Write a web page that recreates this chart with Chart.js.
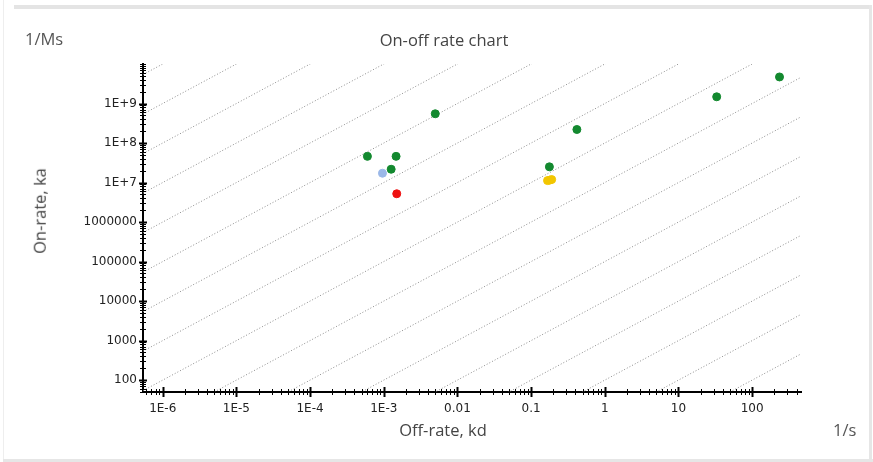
<!DOCTYPE html>
<html>
<head>
<meta charset="utf-8">
<script src="https://cdn.jsdelivr.net/npm/chart.js@4/dist/chart.umd.min.js"></script>
<style>
  html, body { margin: 0; padding: 0; background: #fff; }
  #wrap { position: relative; width: 873px; height: 462px; overflow: hidden; }
  #chart { position: absolute; left: 0; top: 0; }
  .lbl { position: absolute; font-family: "Open Sans", "Noto Sans", sans-serif; color: #555; font-size: 16.5px; white-space: nowrap; line-height: 1; }
  .edge { position: absolute; background: #e4e4e4; }
</style>
</head>
<body>
<div id="wrap">
  <div class="edge" style="left:3px;top:0;width:1px;height:462px;background:#eeeeee"></div>
  <div class="edge" style="left:14px;top:5px;width:858px;height:4px"></div>
  <div class="edge" style="left:869px;top:5px;width:3px;height:457px;background:#e6e6e6"></div>
  <div class="edge" style="left:3px;top:459px;width:870px;height:3px;background:#e6e6e6"></div>
  <canvas id="chart" width="873" height="462"></canvas>
  <div class="lbl" style="left:25px;top:31px;">1/Ms</div>
  <div class="lbl" style="left:444px;top:32px;transform:translateX(-50%);color:#444;font-size:16.5px;">On-off rate chart</div>
  <div class="lbl" style="left:40px;top:211px;transform:translate(-50%,-50%) rotate(-90deg);color:#444;">On-rate, ka</div>
  <div class="lbl" style="left:443px;top:422px;transform:translateX(-50%);color:#444;">Off-rate, kd</div>
  <div class="lbl" style="left:833px;top:422px;">1/s</div>
</div>
<script>
// axis range
const kdMin = 5.4e-7, kdMax = 460;
const kaMin = 50, kaMax = 1e10;

// tick labels (decades)
const kdTicks = [1e-6, 1e-5, 1e-4, 1e-3, 0.01, 0.1, 1, 10, 100];
const kdLabels = ["1E-6", "1E-5", "1E-4", "1E-3", "0.01", "0.1", "1", "10", "100"];
const kaTicks = [100, 1000, 10000, 100000, 1000000, 1e7, 1e8, 1e9];
const kaLabels = ["100", "1000", "10000", "100000", "1000000", "1E+7", "1E+8", "1E+9"];

// iso-affinity lines (KD = kd / ka)
const isoKd = [1e-17, 1e-16, 1e-15, 1e-14, 1e-13, 1e-12, 1e-11, 1e-10, 1e-9, 1e-8, 1e-7, 1e-6, 1e-5, 1e-4, 1e-3, 1e-2, 1e-1, 1, 10];

// measured points
const greenKd = [5.0e-3, 6.0e-4, 1.47e-3, 1.26e-3, 0.418, 0.177, 33, 235];
const greenKa = [5.5e8, 4.6e7, 4.6e7, 2.17e7, 2.2e8, 2.5e7, 1.48e9, 4.7e9];
const blueKd = [9.6e-4];
const blueKa = [1.72e7];
const redKd = [1.5e-3];
const redKa = [5.2e6];
const yellowKd = [0.167, 0.178, 0.19];
const yellowKa = [1.12e7, 1.15e7, 1.19e7];

function pts(xs, ys) {
  return xs.map((x, i) => ({ x: x, y: ys[i] }));
}

// decade + minor (2..9) ticks between min and max
function logTicks(min, max, majors) {
  const out = [];
  const lo = Math.floor(Math.log10(min)), hi = Math.ceil(Math.log10(max));
  for (let e = lo; e <= hi; e++) {
    for (let m = 1; m <= 9; m++) {
      const v = m * Math.pow(10, e);
      if (v < min * 0.999 || v > max * 1.001) continue;
      out.push({ value: v, major: m === 1 && majors.some(t => Math.abs(t - v) / v < 1e-6) });
    }
  }
  return out;
}

function labelFor(value, ticks, labels) {
  const i = ticks.findIndex(t => Math.abs(t - value) / t < 1e-6);
  return i >= 0 ? labels[i] : "";
}

const isoSets = isoKd.map(kd => ({
  type: "line",
  data: [{ x: kdMin, y: kdMin / kd }, { x: kdMax, y: kdMax / kd }],
  borderColor: "#8c8c8c",
  borderWidth: 1,
  borderDash: [1, 2],
  pointRadius: 0,
  fill: false,
  order: 5
}));

function dotSet(data, color) {
  return {
    type: "scatter",
    data: data,
    backgroundColor: color,
    borderColor: color,
    pointRadius: 4,
    pointHoverRadius: 4,
    order: 1
  };
}

// ticks that cross the axis lines
const axisTicks = {
  id: "axisTicks",
  afterDraw(chart) {
    const ctx = chart.ctx;
    const area = chart.chartArea;
    const xs = chart.scales.x, ys = chart.scales.y;
    ctx.save();
    ctx.strokeStyle = "#000";
    xs.ticks.forEach(t => {
      const px = Math.round(xs.getPixelForValue(t.value)) + 0.5;
      const len = t.major ? 5 : 3;
      ctx.lineWidth = t.major ? 2 : 1;
      ctx.beginPath();
      ctx.moveTo(px, area.bottom - len);
      ctx.lineTo(px, area.bottom + len);
      ctx.stroke();
    });
    ys.ticks.forEach(t => {
      const py = Math.round(ys.getPixelForValue(t.value)) + 0.5;
      const len = t.major ? 4 : 3;
      ctx.lineWidth = t.major ? 2 : 1;
      ctx.beginPath();
      ctx.moveTo(area.left - len, py);
      ctx.lineTo(area.left + len, py);
      ctx.stroke();
    });
    ctx.restore();
  }
};

new Chart(document.getElementById("chart"), {
  type: "scatter",
  data: {
    datasets: [
      ...isoSets,
      dotSet(pts(greenKd, greenKa), "#13892f"),
      dotSet(pts(blueKd, blueKa), "#9bb8e8"),
      dotSet(pts(redKd, redKa), "#ee1111"),
      dotSet(pts(yellowKd, yellowKa), "#f2c600")
    ]
  },
  options: {
    responsive: false,
    animation: false,
    layout: { padding: { left: 0, top: 64, right: 72, bottom: 0 } },
    plugins: { legend: { display: false }, tooltip: { enabled: false } },
    scales: {
      x: {
        type: "logarithmic",
        min: kdMin,
        max: kdMax,
        afterBuildTicks: s => { s.ticks = logTicks(kdMin, kdMax, kdTicks); },
        afterFit: s => { s.height = 70; },
        grid: { display: false, drawTicks: false },
        border: { display: true, color: "#000", width: 2 },
        ticks: {
          autoSkip: false,
          maxRotation: 0,
          padding: 10,
          color: "#222",
          font: { family: "DejaVu Sans", size: 12 },
          callback: v => labelFor(v, kdTicks, kdLabels)
        }
      },
      y: {
        type: "logarithmic",
        min: kaMin,
        max: kaMax,
        afterBuildTicks: s => { s.ticks = logTicks(kaMin, kaMax, kaTicks); },
        afterFit: s => { s.width = 143; },
        grid: { display: false, drawTicks: false },
        border: { display: true, color: "#000", width: 2 },
        ticks: {
          autoSkip: false,
          padding: 6,
          color: "#222",
          font: { family: "DejaVu Sans", size: 12 },
          callback: v => labelFor(v, kaTicks, kaLabels)
        }
      }
    }
  },
  plugins: [axisTicks]
});
</script>
</body>
</html>
